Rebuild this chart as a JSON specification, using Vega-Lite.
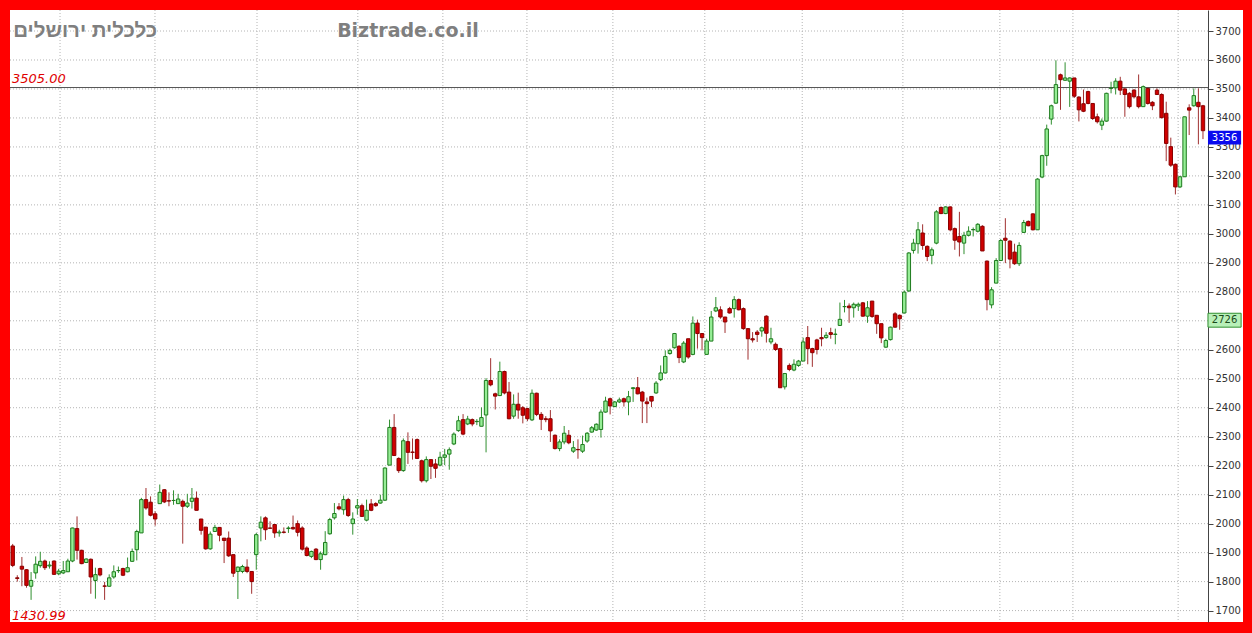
{
  "$schema": "https://vega.github.io/schema/vega-lite/v6.json",
  "width": 1233,
  "height": 612,
  "autosize": {"type": "none"},
  "padding": {"left": 10, "top": 10, "right": 9, "bottom": 11},
  "background": "#ff0000",
  "config": {"view": {"fill": "white", "stroke": null}},
  "datasets": {
    "candles": [
      {"i":1,"o":1923,"h":1930,"l":1850,"c":1856},{"i":2,"o":1813,"h":1822,"l":1800,"c":1811},{"i":3,"o":1853,"h":1885,"l":1784,"c":1843},{"i":4,"o":1841,"h":1843,"l":1779,"c":1787},{"i":5,"o":1784,"h":1833,"l":1737,"c":1804},
      {"i":6,"o":1830,"h":1887,"l":1810,"c":1860},{"i":7,"o":1855,"h":1903,"l":1848,"c":1870},{"i":8,"o":1871,"h":1876,"l":1840,"c":1848},{"i":9,"o":1854,"h":1870,"l":1845,"c":1857},{"i":10,"o":1871,"h":1873,"l":1823,"c":1825},
      {"i":11,"o":1827,"h":1844,"l":1822,"c":1836},{"i":12,"o":1830,"h":1871,"l":1826,"c":1838},{"i":13,"o":1834,"h":1879,"l":1833,"c":1871},{"i":14,"o":1871,"h":1986,"l":1867,"c":1985},{"i":15,"o":1983,"h":2025,"l":1876,"c":1908},
      {"i":16,"o":1908,"h":1910,"l":1860,"c":1862},{"i":17,"o":1866,"h":1880,"l":1864,"c":1878},{"i":18,"o":1877,"h":1880,"l":1758,"c":1816},{"i":19,"o":1804,"h":1848,"l":1741,"c":1824},{"i":20,"o":1845,"h":1848,"l":1818,"c":1823},
      {"i":21,"o":1785,"h":1799,"l":1737,"c":1784},{"i":22,"o":1784,"h":1825,"l":1782,"c":1813},{"i":23,"o":1816,"h":1856,"l":1810,"c":1834},{"i":24,"o":1838,"h":1852,"l":1830,"c":1838},{"i":25,"o":1845,"h":1848,"l":1819,"c":1822},
      {"i":26,"o":1834,"h":1883,"l":1832,"c":1848},{"i":27,"o":1870,"h":1914,"l":1868,"c":1904},{"i":28,"o":1910,"h":1979,"l":1873,"c":1973},{"i":29,"o":1968,"h":2089,"l":1968,"c":2083},{"i":30,"o":2083,"h":2123,"l":2048,"c":2054},
      {"i":31,"o":2074,"h":2094,"l":2025,"c":2029},{"i":32,"o":2034,"h":2042,"l":1993,"c":2016},{"i":33,"o":2069,"h":2135,"l":2068,"c":2108},{"i":34,"o":2117,"h":2119,"l":2071,"c":2075},{"i":35,"o":2079,"h":2108,"l":2060,"c":2078},
      {"i":36,"o":2080,"h":2115,"l":2065,"c":2080},{"i":37,"o":2069,"h":2103,"l":2069,"c":2085},{"i":38,"o":2077,"h":2083,"l":1931,"c":2060},{"i":39,"o":2060,"h":2103,"l":2054,"c":2071},{"i":40,"o":2077,"h":2123,"l":2052,"c":2088},
      {"i":41,"o":2088,"h":2111,"l":2046,"c":2046},{"i":42,"o":2016,"h":2016,"l":1962,"c":1977},{"i":43,"o":1988,"h":1988,"l":1910,"c":1913},{"i":44,"o":1913,"h":1973,"l":1910,"c":1964},{"i":45,"o":1973,"h":1996,"l":1973,"c":1987},
      {"i":46,"o":1987,"h":1988,"l":1939,"c":1960},{"i":47,"o":1950,"h":1950,"l":1864,"c":1942},{"i":48,"o":1950,"h":1973,"l":1885,"c":1889},{"i":49,"o":1893,"h":1893,"l":1816,"c":1829},{"i":50,"o":1835,"h":1852,"l":1740,"c":1850},
      {"i":51,"o":1835,"h":1858,"l":1829,"c":1852},{"i":52,"o":1850,"h":1877,"l":1829,"c":1835},{"i":53,"o":1835,"h":1835,"l":1758,"c":1800},{"i":54,"o":1893,"h":1968,"l":1841,"c":1962},{"i":55,"o":1985,"h":2025,"l":1939,"c":2005},
      {"i":56,"o":2020,"h":2025,"l":1944,"c":1979},{"i":57,"o":1985,"h":2008,"l":1982,"c":1984},{"i":58,"o":1997,"h":1997,"l":1951,"c":1968},{"i":59,"o":1968,"h":1979,"l":1955,"c":1971},{"i":60,"o":1971,"h":1987,"l":1966,"c":1970},
      {"i":61,"o":1983,"h":1991,"l":1968,"c":1985},{"i":62,"o":1987,"h":2028,"l":1979,"c":1982},{"i":63,"o":2000,"h":2011,"l":1956,"c":1970},{"i":64,"o":1985,"h":1991,"l":1907,"c":1912},{"i":65,"o":1916,"h":1922,"l":1887,"c":1890},
      {"i":66,"o":1887,"h":1907,"l":1881,"c":1904},{"i":67,"o":1912,"h":1916,"l":1874,"c":1876},{"i":68,"o":1876,"h":1904,"l":1841,"c":1896},{"i":69,"o":1893,"h":1974,"l":1891,"c":1935},{"i":70,"o":1965,"h":2020,"l":1962,"c":2014},
      {"i":71,"o":2020,"h":2071,"l":2014,"c":2035},{"i":72,"o":2058,"h":2071,"l":2046,"c":2051},{"i":73,"o":2048,"h":2097,"l":2031,"c":2083},{"i":74,"o":2083,"h":2089,"l":2023,"c":2028},{"i":75,"o":2000,"h":2039,"l":1962,"c":2016},
      {"i":76,"o":2054,"h":2085,"l":2031,"c":2062},{"i":77,"o":2062,"h":2069,"l":2023,"c":2025},{"i":78,"o":2012,"h":2083,"l":2008,"c":2046},{"i":79,"o":2068,"h":2085,"l":2043,"c":2046},{"i":80,"o":2069,"h":2074,"l":2058,"c":2062},
      {"i":81,"o":2071,"h":2100,"l":2069,"c":2081},{"i":82,"o":2081,"h":2194,"l":2078,"c":2192},{"i":83,"o":2202,"h":2359,"l":2202,"c":2332},{"i":84,"o":2332,"h":2378,"l":2235,"c":2235},{"i":85,"o":2225,"h":2229,"l":2175,"c":2183},
      {"i":86,"o":2183,"h":2294,"l":2179,"c":2286},{"i":87,"o":2283,"h":2315,"l":2206,"c":2246},{"i":88,"o":2247,"h":2294,"l":2221,"c":2246},{"i":89,"o":2290,"h":2294,"l":2223,"c":2225},{"i":90,"o":2217,"h":2221,"l":2142,"c":2148},
      {"i":91,"o":2148,"h":2232,"l":2142,"c":2221},{"i":92,"o":2221,"h":2221,"l":2154,"c":2198},{"i":93,"o":2206,"h":2223,"l":2158,"c":2191},{"i":94,"o":2202,"h":2248,"l":2198,"c":2229},{"i":95,"o":2229,"h":2258,"l":2202,"c":2237},
      {"i":96,"o":2240,"h":2263,"l":2186,"c":2255},{"i":97,"o":2275,"h":2315,"l":2271,"c":2309},{"i":98,"o":2321,"h":2372,"l":2317,"c":2355},{"i":99,"o":2359,"h":2378,"l":2305,"c":2309},{"i":100,"o":2344,"h":2372,"l":2340,"c":2361},
      {"i":101,"o":2359,"h":2363,"l":2336,"c":2344},{"i":102,"o":2352,"h":2361,"l":2340,"c":2353},{"i":103,"o":2336,"h":2401,"l":2336,"c":2366},{"i":104,"o":2375,"h":2502,"l":2246,"c":2494},{"i":105,"o":2494,"h":2571,"l":2474,"c":2479},
      {"i":106,"o":2448,"h":2452,"l":2394,"c":2440},{"i":107,"o":2442,"h":2559,"l":2440,"c":2525},{"i":108,"o":2525,"h":2528,"l":2446,"c":2451},{"i":109,"o":2454,"h":2489,"l":2360,"c":2362},{"i":110,"o":2371,"h":2446,"l":2362,"c":2412},
      {"i":111,"o":2412,"h":2452,"l":2362,"c":2392},{"i":112,"o":2400,"h":2406,"l":2346,"c":2374},{"i":113,"o":2397,"h":2400,"l":2354,"c":2362},{"i":114,"o":2358,"h":2463,"l":2354,"c":2450},{"i":115,"o":2450,"h":2452,"l":2371,"c":2377},
      {"i":116,"o":2377,"h":2385,"l":2323,"c":2360},{"i":117,"o":2362,"h":2371,"l":2350,"c":2359},{"i":118,"o":2362,"h":2392,"l":2282,"c":2320},{"i":119,"o":2305,"h":2308,"l":2256,"c":2259},{"i":120,"o":2259,"h":2291,"l":2250,"c":2282},
      {"i":121,"o":2282,"h":2337,"l":2274,"c":2312},{"i":122,"o":2305,"h":2323,"l":2274,"c":2279},{"i":123,"o":2250,"h":2285,"l":2244,"c":2262},{"i":124,"o":2256,"h":2291,"l":2224,"c":2255},{"i":125,"o":2250,"h":2304,"l":2244,"c":2273},
      {"i":126,"o":2285,"h":2316,"l":2279,"c":2312},{"i":127,"o":2316,"h":2337,"l":2314,"c":2331},{"i":128,"o":2323,"h":2346,"l":2320,"c":2343},{"i":129,"o":2325,"h":2394,"l":2297,"c":2385},{"i":130,"o":2385,"h":2438,"l":2383,"c":2423},
      {"i":131,"o":2431,"h":2435,"l":2377,"c":2406},{"i":132,"o":2404,"h":2423,"l":2402,"c":2420},{"i":133,"o":2420,"h":2435,"l":2416,"c":2427},{"i":134,"o":2431,"h":2435,"l":2404,"c":2420},{"i":135,"o":2420,"h":2458,"l":2374,"c":2438},
      {"i":136,"o":2466,"h":2471,"l":2420,"c":2469},{"i":137,"o":2469,"h":2506,"l":2446,"c":2448},{"i":138,"o":2454,"h":2458,"l":2347,"c":2423},{"i":139,"o":2420,"h":2435,"l":2347,"c":2414},{"i":140,"o":2439,"h":2439,"l":2402,"c":2423},
      {"i":141,"o":2451,"h":2492,"l":2448,"c":2485},{"i":142,"o":2497,"h":2546,"l":2492,"c":2520},{"i":143,"o":2520,"h":2598,"l":2518,"c":2577},{"i":144,"o":2587,"h":2604,"l":2583,"c":2598},{"i":145,"o":2607,"h":2658,"l":2604,"c":2656},
      {"i":146,"o":2612,"h":2616,"l":2554,"c":2573},{"i":147,"o":2558,"h":2630,"l":2554,"c":2623},{"i":148,"o":2638,"h":2638,"l":2569,"c":2575},{"i":149,"o":2584,"h":2715,"l":2581,"c":2692},{"i":150,"o":2692,"h":2704,"l":2604,"c":2656},
      {"i":151,"o":2656,"h":2656,"l":2598,"c":2642},{"i":152,"o":2584,"h":2638,"l":2584,"c":2630},{"i":153,"o":2630,"h":2734,"l":2630,"c":2713},{"i":154,"o":2734,"h":2782,"l":2730,"c":2745},{"i":155,"o":2738,"h":2750,"l":2707,"c":2713},
      {"i":156,"o":2713,"h":2713,"l":2658,"c":2696},{"i":157,"o":2742,"h":2748,"l":2725,"c":2727},{"i":158,"o":2742,"h":2785,"l":2711,"c":2773},{"i":159,"o":2773,"h":2777,"l":2736,"c":2738},{"i":160,"o":2742,"h":2746,"l":2669,"c":2673},
      {"i":161,"o":2673,"h":2673,"l":2566,"c":2638},{"i":162,"o":2638,"h":2661,"l":2625,"c":2634},{"i":163,"o":2661,"h":2668,"l":2627,"c":2653},{"i":164,"o":2665,"h":2680,"l":2645,"c":2676},{"i":165,"o":2716,"h":2719,"l":2625,"c":2657},
      {"i":166,"o":2627,"h":2676,"l":2619,"c":2638},{"i":167,"o":2619,"h":2625,"l":2596,"c":2601},{"i":168,"o":2604,"h":2607,"l":2469,"c":2469},{"i":169,"o":2472,"h":2520,"l":2463,"c":2518},{"i":170,"o":2546,"h":2553,"l":2526,"c":2532},
      {"i":171,"o":2530,"h":2567,"l":2526,"c":2550},{"i":172,"o":2546,"h":2565,"l":2541,"c":2561},{"i":173,"o":2561,"h":2642,"l":2561,"c":2627},{"i":174,"o":2642,"h":2682,"l":2550,"c":2604},{"i":175,"o":2604,"h":2607,"l":2541,"c":2590},
      {"i":176,"o":2634,"h":2638,"l":2584,"c":2601},{"i":177,"o":2642,"h":2676,"l":2612,"c":2638},{"i":178,"o":2642,"h":2661,"l":2638,"c":2650},{"i":179,"o":2659,"h":2676,"l":2638,"c":2653},{"i":180,"o":2653,"h":2673,"l":2619,"c":2654},
      {"i":181,"o":2684,"h":2763,"l":2682,"c":2705},{"i":182,"o":2749,"h":2772,"l":2729,"c":2749},{"i":183,"o":2751,"h":2760,"l":2693,"c":2745},{"i":184,"o":2745,"h":2763,"l":2711,"c":2757},{"i":185,"o":2751,"h":2763,"l":2734,"c":2757},
      {"i":186,"o":2762,"h":2765,"l":2714,"c":2716},{"i":187,"o":2716,"h":2768,"l":2693,"c":2745},{"i":188,"o":2768,"h":2768,"l":2710,"c":2715},{"i":189,"o":2719,"h":2719,"l":2655,"c":2690},{"i":190,"o":2690,"h":2690,"l":2623,"c":2641},
      {"i":191,"o":2609,"h":2638,"l":2607,"c":2632},{"i":192,"o":2635,"h":2680,"l":2632,"c":2678},{"i":193,"o":2724,"h":2730,"l":2676,"c":2678},{"i":194,"o":2719,"h":2722,"l":2669,"c":2707},{"i":195,"o":2727,"h":2805,"l":2725,"c":2799},
      {"i":196,"o":2803,"h":2937,"l":2799,"c":2934},{"i":197,"o":2943,"h":2983,"l":2932,"c":2968},{"i":198,"o":2966,"h":3041,"l":2932,"c":3014},{"i":199,"o":3003,"h":3033,"l":2945,"c":2960},{"i":200,"o":2957,"h":2960,"l":2906,"c":2922},
      {"i":201,"o":2926,"h":2953,"l":2895,"c":2945},{"i":202,"o":2968,"h":3082,"l":2964,"c":3076},{"i":203,"o":3091,"h":3095,"l":3068,"c":3070},{"i":204,"o":3070,"h":3095,"l":3068,"c":3093},{"i":205,"o":3093,"h":3095,"l":3009,"c":3014},
      {"i":206,"o":3018,"h":3022,"l":2945,"c":2978},{"i":207,"o":2991,"h":3076,"l":2922,"c":2972},{"i":208,"o":2968,"h":3007,"l":2930,"c":2995},{"i":209,"o":2995,"h":3026,"l":2991,"c":3009},{"i":210,"o":3014,"h":3022,"l":2991,"c":3015},
      {"i":211,"o":3009,"h":3037,"l":3005,"c":3033},{"i":212,"o":3026,"h":3030,"l":2941,"c":2941},{"i":213,"o":2906,"h":2908,"l":2736,"c":2773},{"i":214,"o":2755,"h":2816,"l":2743,"c":2807},{"i":215,"o":2830,"h":2916,"l":2830,"c":2908},
      {"i":216,"o":2908,"h":2982,"l":2908,"c":2977},{"i":217,"o":2985,"h":3054,"l":2899,"c":2978},{"i":218,"o":2975,"h":2978,"l":2881,"c":2913},{"i":219,"o":2937,"h":2966,"l":2893,"c":2897},{"i":220,"o":2897,"h":2971,"l":2889,"c":2960},
      {"i":221,"o":3005,"h":3048,"l":3003,"c":3039},{"i":222,"o":3043,"h":3046,"l":3026,"c":3028},{"i":223,"o":3069,"h":3071,"l":3012,"c":3014},{"i":224,"o":3014,"h":3192,"l":3014,"c":3189},{"i":225,"o":3196,"h":3273,"l":3192,"c":3270},
      {"i":226,"o":3270,"h":3377,"l":3235,"c":3362},{"i":227,"o":3396,"h":3446,"l":3377,"c":3442},{"i":228,"o":3451,"h":3599,"l":3449,"c":3515},{"i":229,"o":3549,"h":3553,"l":3428,"c":3532},{"i":230,"o":3530,"h":3592,"l":3528,"c":3538},
      {"i":231,"o":3527,"h":3540,"l":3438,"c":3538},{"i":232,"o":3538,"h":3538,"l":3469,"c":3475},{"i":233,"o":3472,"h":3475,"l":3388,"c":3428},{"i":234,"o":3449,"h":3498,"l":3420,"c":3423},{"i":235,"o":3491,"h":3494,"l":3447,"c":3450},
      {"i":236,"o":3450,"h":3450,"l":3393,"c":3398},{"i":237,"o":3404,"h":3415,"l":3381,"c":3387},{"i":238,"o":3375,"h":3398,"l":3358,"c":3389},{"i":239,"o":3389,"h":3487,"l":3387,"c":3485},{"i":240,"o":3502,"h":3525,"l":3485,"c":3503},
      {"i":241,"o":3504,"h":3537,"l":3481,"c":3527},{"i":242,"o":3527,"h":3542,"l":3479,"c":3496},{"i":243,"o":3500,"h":3504,"l":3404,"c":3481},{"i":244,"o":3485,"h":3489,"l":3433,"c":3439},{"i":245,"o":3496,"h":3500,"l":3467,"c":3473},
      {"i":246,"o":3473,"h":3550,"l":3433,"c":3439},{"i":247,"o":3439,"h":3512,"l":3439,"c":3508},{"i":248,"o":3502,"h":3504,"l":3446,"c":3450},{"i":249,"o":3454,"h":3458,"l":3427,"c":3442},{"i":250,"o":3496,"h":3502,"l":3479,"c":3481},
      {"i":251,"o":3481,"h":3485,"l":3398,"c":3401},{"i":252,"o":3416,"h":3456,"l":3251,"c":3312},{"i":253,"o":3301,"h":3332,"l":3231,"c":3237},{"i":254,"o":3240,"h":3243,"l":3136,"c":3162},{"i":255,"o":3162,"h":3200,"l":3158,"c":3197},
      {"i":256,"o":3197,"h":3404,"l":3197,"c":3404},{"i":257,"o":3435,"h":3447,"l":3341,"c":3427},{"i":258,"o":3442,"h":3502,"l":3439,"c":3477},{"i":259,"o":3454,"h":3502,"l":3309,"c":3439},{"i":260,"o":3442,"h":3445,"l":3327,"c":3356}
    ],
    "hgrid": [{"g":1700},{"g":1800},{"g":1900},{"g":2000},{"g":2100},{"g":2200},{"g":2300},{"g":2400},{"g":2500},{"g":2600},{"g":2700},{"g":2800},{"g":2900},{"g":3000},{"g":3100},{"g":3200},{"g":3300},{"g":3400},{"g":3500},{"g":3600},{"g":3700}],
    "vgrid": [{"v":11.3},{"v":31.96},{"v":54.16},{"v":76.1},{"v":94.6},{"v":112.9},{"v":131.6},{"v":151.6},{"v":172.8},{"v":194.7},{"v":215.8},{"v":231.7},{"v":254.6}]
  },
  "layer": [
    {
      "data": {"name": "hgrid"},
      "mark": {"type": "rule", "color": "#b4b4b4", "strokeDash": [1, 2], "strokeWidth": 1},
      "encoding": {
        "y": {"field": "g", "type": "quantitative", "scale": {"domain": [1660.6, 3772.5], "nice": false, "zero": false, "padding": 0},
          "axis": {"orient": "right", "offset": -35, "title": null, "grid": false, "format": "d", "labelOverlap": false, "zindex": 0, "tickCount": 40,
            "values": [1700,1800,1900,2000,2100,2200,2300,2400,2500,2600,2800,2900,3000,3100,3200,3300,3400,3500,3600,3700],
            "labelFont": "DejaVu Sans", "labelFontSize": 10, "labelColor": "#333333", "labelPadding": 2,
            "domainColor": "#444444", "domainWidth": 1, "tickColor": "#444444", "tickSize": 5, "tickWidth": 1}},
        "x": {"datum": 0.413, "type": "quantitative", "scale": {"domain": [0.413, 268.71], "nice": false, "zero": false, "padding": 0}, "axis": null},
        "x2": {"datum": 261.09}
      }
    },
    {
      "data": {"name": "vgrid"},
      "mark": {"type": "rule", "color": "#b4b4b4", "strokeDash": [1, 2], "strokeWidth": 1},
      "encoding": {
        "x": {"field": "v", "type": "quantitative", "axis": null}
      }
    },
    {
      "data": {"values": [{}]},
      "mark": {"type": "rule", "color": "#555555", "strokeWidth": 1},
      "encoding": {
        "y": {"datum": 3505, "type": "quantitative"},
        "x": {"datum": 0.413, "type": "quantitative"},
        "x2": {"datum": 261.09}
      }
    },
    {
      "data": {"name": "candles"},
      "mark": {"type": "rule", "strokeWidth": 1},
      "encoding": {
        "x": {"field": "i", "type": "quantitative"},
        "y": {"field": "l", "type": "quantitative"},
        "y2": {"field": "h"},
        "color": {"condition": {"test": "datum.c >= datum.o", "value": "#2f8f2f"}, "value": "#a03030"}
      }
    },
    {
      "data": {"name": "candles"},
      "mark": {"type": "bar", "size": 3.4, "strokeWidth": 1},
      "encoding": {
        "x": {"field": "i", "type": "quantitative"},
        "y": {"field": "o", "type": "quantitative"},
        "y2": {"field": "c"},
        "fill": {"condition": {"test": "datum.c >= datum.o", "value": "#96ee96"}, "value": "#d00000"},
        "stroke": {"condition": {"test": "datum.c >= datum.o", "value": "#1d7a1d"}, "value": "#8a0000"}
      }
    },
    {
      "data": {"values": [{}]},
      "mark": {"type": "text", "text": "3505.00", "font": "DejaVu Sans", "fontSize": 13, "fontStyle": "italic", "color": "#e00000", "align": "left", "baseline": "alphabetic"},
      "encoding": {
        "x": {"datum": 0.85, "type": "quantitative"},
        "y": {"datum": 3521, "type": "quantitative"}
      }
    },
    {
      "data": {"values": [{}]},
      "mark": {"type": "text", "text": "1430.99", "font": "DejaVu Sans", "fontSize": 13, "fontStyle": "italic", "color": "#e00000", "align": "left", "baseline": "alphabetic"},
      "encoding": {
        "x": {"datum": 0.85, "type": "quantitative"},
        "y": {"datum": 1667, "type": "quantitative"}
      }
    },
    {
      "data": {"values": [{}]},
      "mark": {"type": "text", "text": "כלכלית ירושלים", "font": "Liberation Sans", "fontSize": 20.5, "fontWeight": "bold", "color": "#7f7f7f", "align": "left", "baseline": "alphabetic"},
      "encoding": {
        "x": {"datum": 1.1, "type": "quantitative"},
        "y": {"datum": 3680, "type": "quantitative"}
      }
    },
    {
      "data": {"values": [{}]},
      "mark": {"type": "text", "text": "Biztrade.co.il", "font": "DejaVu Sans", "fontSize": 19, "fontWeight": "bold", "color": "#7f7f7f", "align": "center", "baseline": "alphabetic"},
      "encoding": {
        "x": {"datum": 87.0, "type": "quantitative"},
        "y": {"datum": 3680, "type": "quantitative"}
      }
    },
    {
      "data": {"values": [{}]},
      "mark": {"type": "rect", "fill": "#0a0aee"},
      "encoding": {
        "x": {"datum": 261.09, "type": "quantitative"},
        "x2": {"datum": 268.3},
        "y": {"datum": 3356, "type": "quantitative"},
        "y2": {"datum": 3308}
      }
    },
    {
      "data": {"values": [{}]},
      "mark": {"type": "text", "text": "3356", "font": "DejaVu Sans", "fontSize": 10, "color": "#ffffff", "align": "center", "baseline": "middle"},
      "encoding": {
        "x": {"datum": 264.7, "type": "quantitative"},
        "y": {"datum": 3332, "type": "quantitative"}
      }
    },
    {
      "data": {"values": [{}]},
      "mark": {"type": "rect", "fill": "#b8f0b8", "stroke": "#2f8f2f", "strokeWidth": 1},
      "encoding": {
        "x": {"datum": 261.09, "type": "quantitative"},
        "x2": {"datum": 268.3},
        "y": {"datum": 2726, "type": "quantitative"},
        "y2": {"datum": 2678}
      }
    },
    {
      "data": {"values": [{}]},
      "mark": {"type": "text", "text": "2726", "font": "DejaVu Sans", "fontSize": 10, "color": "#1a4a1a", "align": "center", "baseline": "middle"},
      "encoding": {
        "x": {"datum": 264.7, "type": "quantitative"},
        "y": {"datum": 2702, "type": "quantitative"}
      }
    }
  ]
}
